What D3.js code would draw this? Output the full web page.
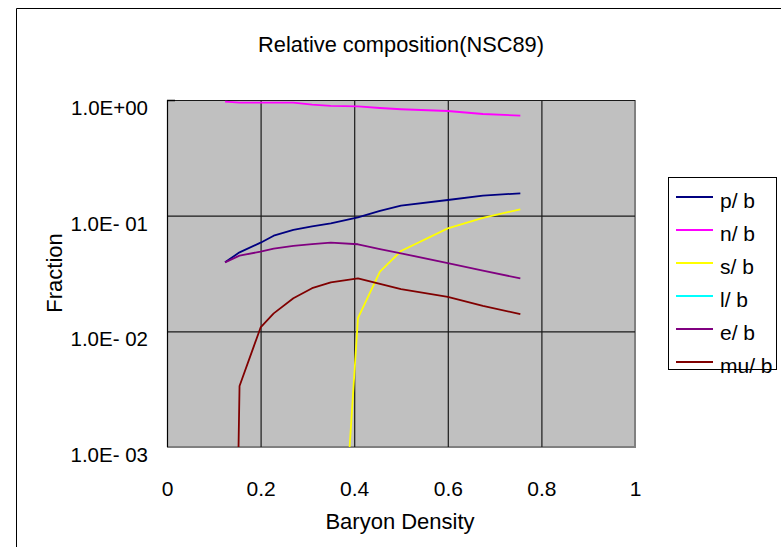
<!DOCTYPE html>
<html>
<head>
<meta charset="utf-8">
<script src="https://cdn.jsdelivr.net/npm/d3@7"></script>
<style>
  html, body { margin: 0; padding: 0; background: #fff; }
  svg { display: block; font-family: "Liberation Sans", Arial, sans-serif; }
</style>
</head>
<body>
<svg id="chart" width="781" height="547"></svg>
<script>
// Baryon density grid shared by all species
const density = [0.124, 0.155, 0.2, 0.228, 0.27, 0.31, 0.35, 0.408, 0.455, 0.5, 0.6, 0.675, 0.755];

// Particle fractions per baryon
const pB  = [0.0395, 0.0482, 0.0584, 0.0671, 0.0752, 0.0808, 0.0859, 0.0968, 0.110, 0.122, 0.1366, 0.149, 0.156];
const nB  = [0.967, 0.948, 0.948, 0.948, 0.948, 0.911, 0.891, 0.882, 0.853, 0.832, 0.803, 0.757, 0.732];
const sB  = [null, null, null, null, null, null, 3e-6, 0.013, 0.0328, 0.0495, 0.0776, 0.0955, 0.1135];
const lB  = [null, null, null, null, null, null, null, null, null, null, null, null, null];
const eB  = [0.0395, 0.0451, 0.0489, 0.0519, 0.0547, 0.0567, 0.0584, 0.0566, 0.0514, 0.0473, 0.0388, 0.0335, 0.0287];
const muB = [1e-10, 0.00337, 0.0108, 0.0143, 0.0193, 0.0236, 0.0265, 0.0287, 0.0257, 0.0232, 0.0199, 0.0166, 0.0141];

const seriesNames  = ["p/ b", "n/ b", "s/ b", "l/ b", "e/ b", "mu/ b"];
const seriesValues = [pB, nB, sB, lB, eB, muB];
const seriesColors = ["#000080", "#FF00FF", "#FFFF00", "#00FFFF", "#800080", "#800000"];

// Axis ticks
const xTicks = [0, 0.2, 0.4, 0.6, 0.8, 1];
const xTickLabels = ["0", "0.2", "0.4", "0.6", "0.8", "1"];
const yTicks = [1, 0.1, 0.01, 0.001];
const yTickLabels = ["1.0E+00", "1.0E- 01", "1.0E- 02", "1.0E- 03"];

const svg = d3.select("#chart");
const plot = { left: 167, top: 100, right: 635, bottom: 447 };

const x = d3.scaleLinear().domain([0, 1]).range([plot.left, plot.right]);
const y = d3.scaleLog().domain([0.001, 1]).range([plot.bottom, plot.top]);

// Outer chart frame (left and top edges)
svg.append("line").attr("x1", 16.5).attr("y1", 8.5).attr("x2", 781).attr("y2", 8.5)
  .attr("stroke", "#000").attr("stroke-width", 1);
svg.append("line").attr("x1", 16.5).attr("y1", 8.5).attr("x2", 16.5).attr("y2", 547)
  .attr("stroke", "#000").attr("stroke-width", 1);

// Title
svg.append("text")
  .attr("x", 401).attr("y", 52)
  .attr("text-anchor", "middle")
  .attr("font-size", 21.8)
  .attr("fill", "#000")
  .text("Relative composition(NSC89)");

// Plot background
svg.append("rect")
  .attr("x", plot.left).attr("y", plot.top)
  .attr("width", plot.right - plot.left).attr("height", plot.bottom - plot.top)
  .attr("fill", "#C0C0C0");

// Right and bottom plot border
svg.append("path")
  .attr("d", `M${plot.right},${plot.top}V${plot.bottom}H${plot.left}`)
  .attr("fill", "none").attr("stroke", "#808080").attr("stroke-width", 2);

// Vertical gridlines
const xAxis = d3.axisBottom(x)
  .tickValues(xTicks)
  .tickSize(-(plot.bottom - plot.top))
  .tickFormat((d, i) => xTickLabels[i]);
const gx = svg.append("g")
  .attr("transform", `translate(0,${plot.bottom})`)
  .call(xAxis);
gx.select(".domain").remove();
gx.selectAll(".tick line")
  .attr("stroke", "#1a1a1a").attr("stroke-width", 1.2)
  .filter(d => d === 0 || d === 1).remove();
gx.selectAll(".tick text")
  .attr("font-size", 21).attr("fill", "#000")
  .attr("font-family", "Liberation Sans, Arial, sans-serif")
  .attr("y", 0).attr("dy", 0)
  .attr("transform", "translate(0,49)");

// Horizontal gridlines and labels
const yAxis = d3.axisLeft(y)
  .tickValues(yTicks)
  .tickSize(-(plot.right - plot.left))
  .tickFormat((d, i) => yTickLabels[i]);
const gy = svg.append("g")
  .attr("transform", `translate(${plot.left},0)`)
  .call(yAxis);
gy.select(".domain").remove();
gy.selectAll(".tick line")
  .attr("stroke", "#1a1a1a").attr("stroke-width", 1.2)
  .filter(d => d === 0.001).remove();
gy.selectAll(".tick text")
  .attr("font-size", 20.5).attr("fill", "#000")
  .attr("font-family", "Liberation Sans, Arial, sans-serif")
  .attr("x", -19).attr("dy", 0)
  .attr("transform", "translate(0,14.5)");

// Left axis line
svg.append("line")
  .attr("x1", plot.left + 0.5).attr("y1", plot.top)
  .attr("x2", plot.left + 0.5).attr("y2", plot.bottom)
  .attr("stroke", "#000").attr("stroke-width", 1.2);
svg.append("line")
  .attr("x1", plot.left).attr("y1", plot.top + 0.5)
  .attr("x2", plot.left + 8).attr("y2", plot.top + 0.5)
  .attr("stroke", "#000").attr("stroke-width", 1.5);

// Axis titles
svg.append("text")
  .attr("x", 400).attr("y", 529)
  .attr("text-anchor", "middle")
  .attr("font-size", 22).attr("fill", "#000")
  .text("Baryon Density");
svg.append("text")
  .attr("transform", "translate(62,273) rotate(-90)")
  .attr("text-anchor", "middle")
  .attr("font-size", 22).attr("fill", "#000")
  .text("Fraction");

// Series lines, clipped to the plot area
svg.append("clipPath").attr("id", "plotClip")
  .append("rect")
  .attr("x", plot.left).attr("y", plot.top)
  .attr("width", plot.right - plot.left).attr("height", plot.bottom - plot.top);

const line = d3.line()
  .defined(d => d.v != null && d.v > 0)
  .x(d => x(d.x))
  .y(d => y(d.v));

const gLines = svg.append("g").attr("clip-path", "url(#plotClip)");
seriesValues.forEach((vals, i) => {
  const pts = density.map((dx, j) => ({ x: dx, v: vals[j] }));
  gLines.append("path")
    .datum(pts)
    .attr("d", line)
    .attr("fill", "none")
    .attr("stroke", seriesColors[i])
    .attr("stroke-width", 1.8)
    .attr("stroke-linejoin", "round");
});

// Legend
const legend = svg.append("g");
legend.append("rect")
  .attr("x", 668.5).attr("y", 177.5)
  .attr("width", 108).attr("height", 192)
  .attr("fill", "#fff").attr("stroke", "#000").attr("stroke-width", 1);
seriesNames.forEach((name, i) => {
  const ly = 197 + i * 33;
  legend.append("line")
    .attr("x1", 676).attr("x2", 713)
    .attr("y1", ly).attr("y2", ly)
    .attr("stroke", seriesColors[i]).attr("stroke-width", 1.8);
  legend.append("text")
    .attr("x", 720).attr("y", ly + 10.5)
    .attr("font-size", 21).attr("fill", "#000")
    .text(name);
});
</script>
</body>
</html>
